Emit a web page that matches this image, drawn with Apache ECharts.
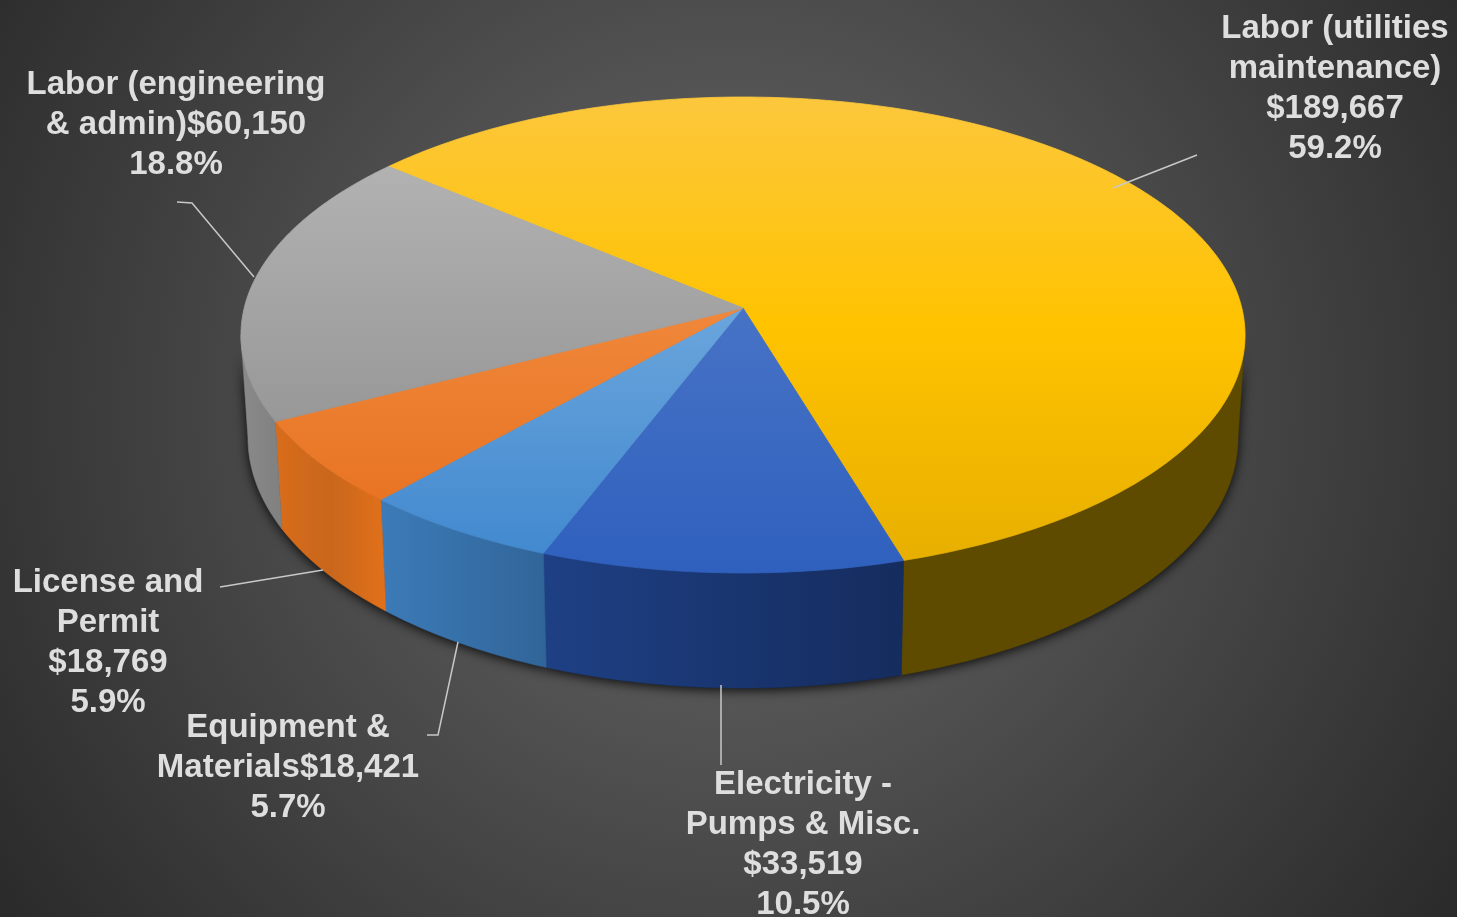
<!DOCTYPE html>
<html><head><meta charset="utf-8">
<style>html,body{margin:0;padding:0;background:#333}#c{width:1457px;height:917px}</style>
<script src="https://cdn.jsdelivr.net/npm/echarts@6/dist/echarts.min.js"></script>
</head><body><div id="c"></div>
<script>
// DATA
var categories = ['Labor (utilities maintenance)','Electricity - Pumps & Misc.','Equipment & Materials','License and Permit','Labor (engineering & admin)'];
var values = [189667, 33519, 18421, 18769, 60150];
var labelTexts = [
  'Labor (utilities\nmaintenance)\n$189,667\n59.2%',
  'Electricity -\nPumps & Misc.\n$33,519\n10.5%',
  'Equipment &\nMaterials$18,421\n5.7%',
  'License and\nPermit\n$18,769\n5.9%',
  'Labor (engineering\n& admin)$60,150\n18.8%'
];
// STYLE / LAYOUT (separate from data)
var topColors = [
  [[0,'#FCC73C'],[0.48,'#FFC300'],[1,'#E6AE00']],
  [[0,'#5A82CC'],[1,'#2F60BE']],
  [[0.45,'#6AA5DC'],[1,'#3F87CE']],
  [[0.45,'#F0873A'],[1,'#E56D1B']],
  [[0.1,'#B4B4B4'],[0.7,'#979797']]
];
var wallColors = [
  [[0,'#5E4B00'],[1,'#5E4B00']],
  [[0,'#1E4084'],[1,'#152C5E']],
  [[0,'#3C7BB8'],[1,'#316599']],
  [[0,'#D96C1A'],[0.5,'#C8671C'],[1,'#E2701A']],
  [[0,'#8A8A8A'],[1,'#808080']]
];
var labelPos = [[1335,89],[803,845],[288,768],[108,643],[176,125]];
var leaders = [
  [[1113,188],[1197,155]],
  [[721,685],[721,765]],
  [[458,642],[438,735],[427,735]],
  [[323,570],[220,587]],
  [[254,277],[192,203],[177,202]]
];
var START_DEG = -49.7, K = 0.1134;
var VISIBLE = [96.5, 263.5];
var topDisc = {x:743, y:308, a:498.8, b:234.9};
var botDisc = {x:743, y:409.6, a:491.8, b:246.8};

var total = values.reduce(function(a,b){return a+b;},0);
function sliceRange(i){
  var s = 0; for (var j=0;j<i;j++) s += values[j];
  return [START_DEG + s/total*360, START_DEG + (s+values[i])/total*360];
}
function wallRange(i){
  var r = sliceRange(i);
  return [Math.max(r[0],VISIBLE[0]), Math.min(r[1],VISIBLE[1])];
}
function proj(d, deg){
  var t = deg*Math.PI/180, u = Math.sin(t), v = -Math.cos(t), w = 1-K*v;
  return [d.x + d.a*u/w, d.y + d.b*v/w];
}
function arc(d, r){
  var pts = [], n = Math.ceil((r[1]-r[0])/0.75);
  for (var i=0;i<=n;i++) pts.push(proj(d, r[0]+(r[1]-r[0])*i/n));
  return pts;
}
function wallPoints(i){
  var r = wallRange(i);
  return arc(topDisc,r).concat(arc(botDisc,r).reverse());
}
function grad(x,y,x2,y2,stops){
  return new echarts.graphic.LinearGradient(x,y,x2,y2,stops.map(function(s){return {offset:s[0],color:s[1]};}),true);
}
var seriesData = values.map(function(v,i){return {name:categories[i],value:v};});

var chart = echarts.init(document.getElementById('c'),null,{renderer:'canvas'});
chart.setOption({
  animation:false,
  backgroundColor:{type:'radial',x:0.5,y:0.44,r:1,colorStops:[{offset:0,color:'#6a6a6a'},{offset:1,color:'#282828'}]},
  series:[
    {type:'custom',coordinateSystem:'none',silent:true,z:1,data:seriesData,
     renderItem:function(p){
       return {type:'polygon',shape:{points:wallPoints(p.dataIndex)},
         style:{fill:'#111',shadowBlur:12,shadowColor:'rgba(0,0,0,0.9)',shadowOffsetY:2}};
     }},
    {type:'custom',coordinateSystem:'none',silent:true,z:2,data:seriesData,
     renderItem:function(p){
       var i=p.dataIndex,pts=wallPoints(i);
       var xs=pts.map(function(q){return q[0];});
       var minX=Math.min.apply(null,xs),maxX=Math.max.apply(null,xs);
       var g=grad(minX,0,maxX,0,wallColors[i]);
       return {type:'polygon',shape:{points:pts},style:{fill:g,stroke:g,lineWidth:0.6}};
     }},
    {type:'custom',coordinateSystem:'none',silent:true,z:3,data:seriesData,
     renderItem:function(p){
       var i=p.dataIndex,g=grad(0,97,0,573,topColors[i]);
       return {type:'polygon',shape:{points:[[topDisc.x,topDisc.y]].concat(arc(topDisc,sliceRange(i)))},
         style:{fill:g,stroke:g,lineWidth:0.8}};
     }},
    {type:'custom',coordinateSystem:'none',silent:true,z:4,data:seriesData,
     renderItem:function(p){
       var i=p.dataIndex;
       return {type:'group',children:[
         {type:'polyline',shape:{points:leaders[i]},style:{stroke:'#c8c8c8',lineWidth:1.5,fill:null}},
         {type:'text',x:labelPos[i][0],y:labelPos[i][1],style:{text:labelTexts[i],fill:'#dedede',
           font:'bold 33px "Liberation Sans", Arial, sans-serif',lineHeight:40,align:'center',verticalAlign:'middle'}}
       ]};
     }}
  ]
});
</script></body></html>
